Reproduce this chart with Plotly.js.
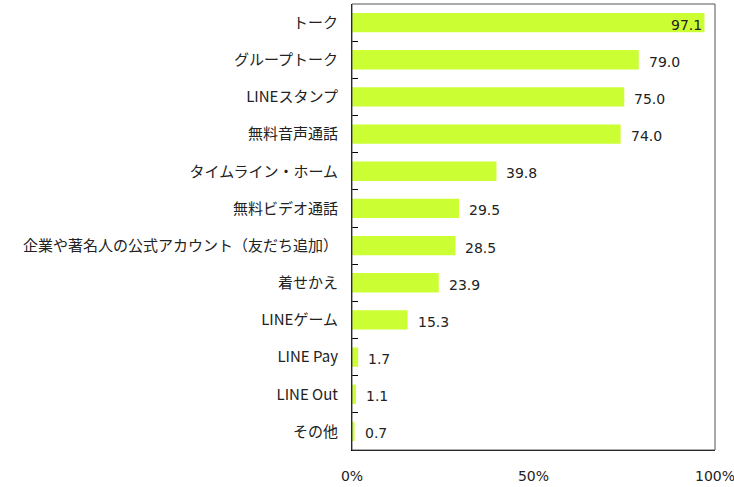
<!DOCTYPE html>
<html>
<head>
<meta charset="utf-8">
<script src="https://cdn.plot.ly/plotly-3.0.1.min.js"></script>
<style>html,body{margin:0;padding:0;background:#fff;}#chart{width:734px;height:487px;}</style>
</head>
<body>
<div id="chart"></div>
<script>
const categories = ["トーク","グループトーク","LINEスタンプ","無料音声通話","タイムライン・ホーム","無料ビデオ通話","企業や著名人の公式アカウント（友だち追加）","着せかえ","LINEゲーム","LINE Pay","LINE Out","その他"];
const values = [97.1, 79.0, 75.0, 74.0, 39.8, 29.5, 28.5, 23.9, 15.3, 1.7, 1.1, 0.7];
const xTicks = [0, 50, 100];

const numFont = {family: "DejaVu Sans, Verdana, sans-serif", size: 14, color: "#222"};
const annotations = categories.map((c, i) => {
  const inside = values[i] > 90;
  return {
    x: values[i], y: c, xref: "x", yref: "y",
    text: values[i].toFixed(1),
    showarrow: false,
    xanchor: inside ? "right" : "left",
    xshift: inside ? 0 : 8,
    yshift: -2,
    font: numFont
  };
});

const trace = {
  type: "bar", orientation: "h",
  x: values, y: categories,
  marker: {color: "#ccff33"},
  width: 0.52,
  hoverinfo: "none"
};

const layout = {
  width: 734, height: 487,
  margin: {l: 352, r: 19, t: 4, b: 37},
  paper_bgcolor: "#fff", plot_bgcolor: "#fff",
  showlegend: false,
  font: {family: "Noto Sans CJK JP, sans-serif", size: 15, color: "#222"},
  xaxis: {
    range: [0, 100], tickvals: xTicks, ticktext: xTicks.map(v => v + "%"),
    showgrid: false, zeroline: false, showline: true, linecolor: "#000", linewidth: 1,
    ticks: "", ticklabelstandoff: 13, ticklabeloverflow: "allow",
    tickfont: numFont, fixedrange: true
  },
  yaxis: {
    type: "category", categoryorder: "array", categoryarray: categories,
    autorange: "reversed",
    showgrid: false, zeroline: false, showline: true, linecolor: "#000", linewidth: 1,
    ticks: "inside", tickson: "boundaries", ticklen: 6, tickcolor: "#000",
    ticklabelstandoff: 10,
    tickfont: {family: "Noto Sans CJK JP, sans-serif", size: 15, color: "#222"}
  },
  shapes: [{type: "rect", xref: "paper", yref: "paper", x0: 0, x1: 1, y0: 0, y1: 1,
            line: {color: "#555", width: 1}, fillcolor: "rgba(0,0,0,0)"}],
  annotations: annotations
};

Plotly.newPlot("chart", [trace], layout, {displayModeBar: false, staticPlot: true});
</script>
</body>
</html>
